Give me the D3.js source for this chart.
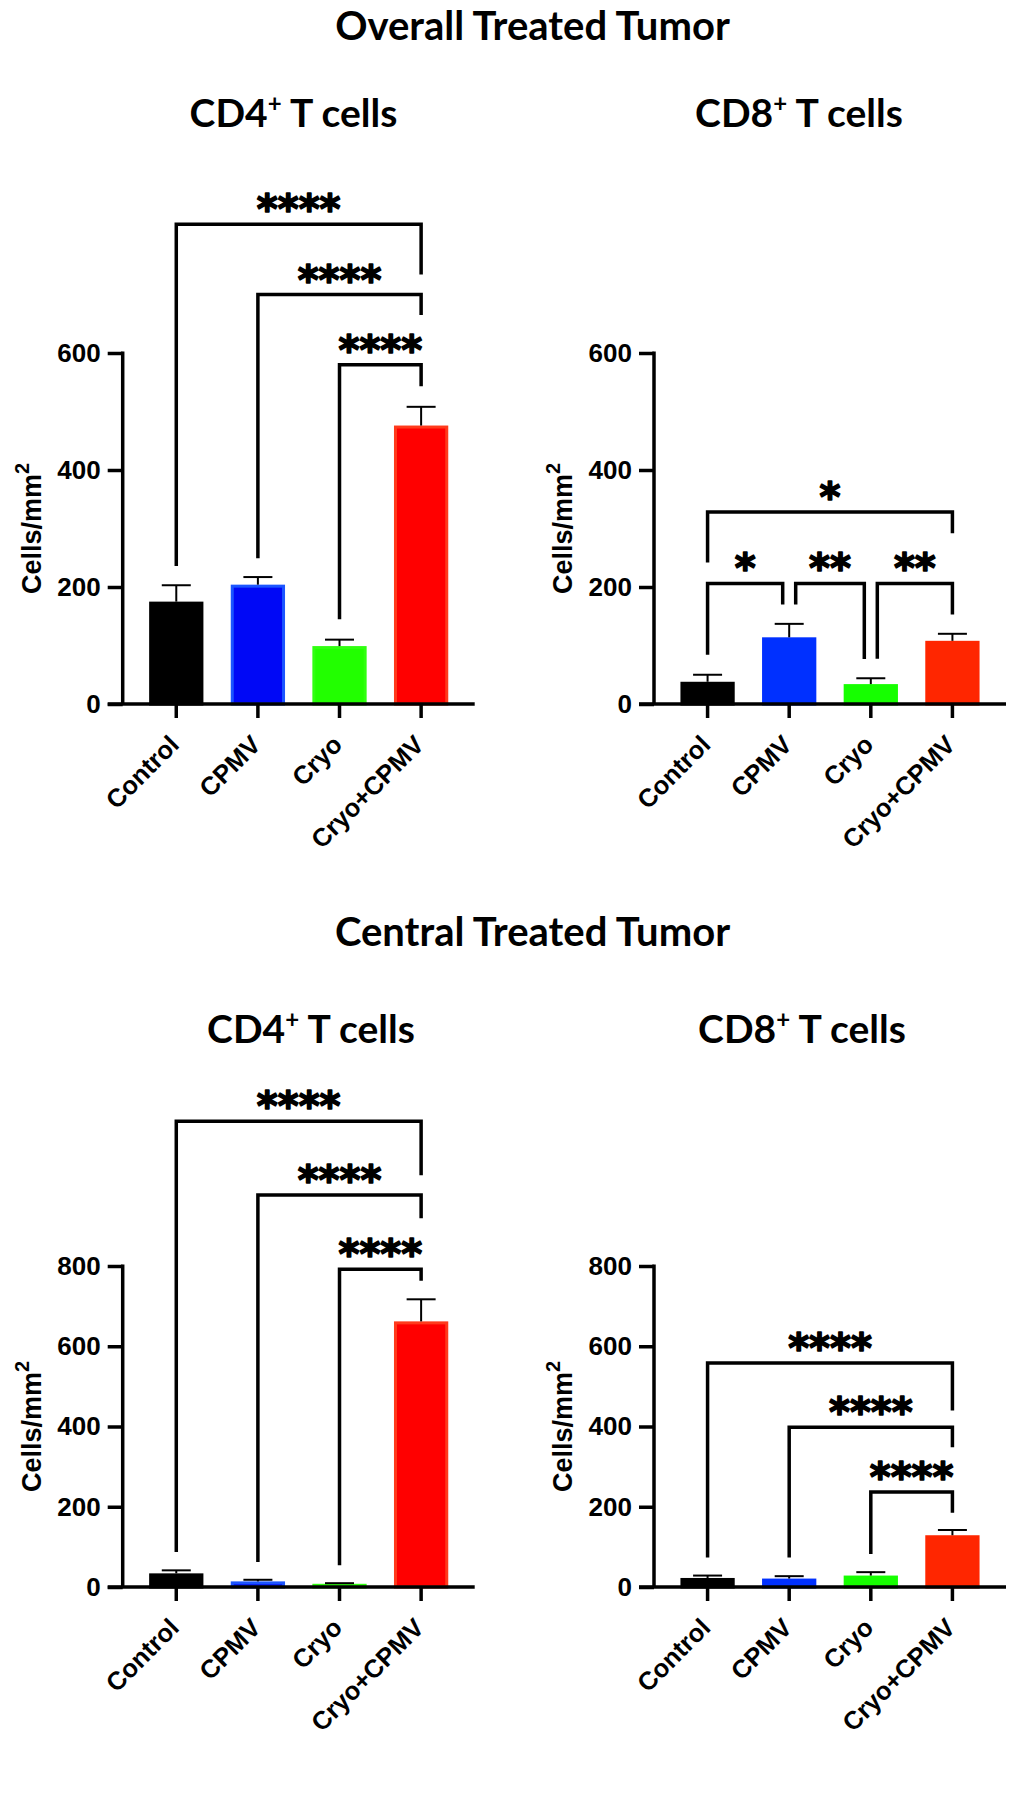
<!DOCTYPE html>
<html><head><meta charset="utf-8">
<script src="https://cdn.jsdelivr.net/npm/d3@7"></script>
<style>body{margin:0;background:#fff}</style>
</head><body>
<svg id="chart" width="1014" height="1800"></svg>
<script>
// ---------------- data ----------------
const categories = ["Control", "CPMV", "Cryo", "Cryo+CPMV"];

const overallCD4Mean = [175, 204, 99, 476];
const overallCD4Sem  = [28, 13, 11, 32];
const overallCD8Mean = [38, 114, 34, 108];
const overallCD8Sem  = [12, 23, 10, 12];
const centralCD4Mean = [34, 14, 8, 662];
const centralCD4Sem  = [7.5, 4, 1.5, 55];
const centralCD8Mean = [22.5, 21, 28.5, 129];
const centralCD8Sem  = [6, 6, 8.5, 13];

const overallTicks = [0, 200, 400, 600];
const centralTicks = [0, 200, 400, 600, 800];

// significance brackets: [from, to, label, bracket level, left leg end, right leg end] (data units)
const overallCD4Sig = [[0, 3, "****", 820, 236, 734], [1, 3, "****", 700, 249, 665], [2, 3, "****", 580, 145, 543]];
const overallCD8Sig = [[0, 3, "*", 328, 242, 292], [0, 1, "*", 206, 84, 170], [1, 2, "**", 206, 170, 77], [2, 3, "**", 206, 77.5, 153]];
const centralCD4Sig = [[0, 3, "****", 1161, 87, 1026], [1, 3, "****", 977, 62, 919], [2, 3, "****", 792, 54, 763]];
const centralCD8Sig = [[0, 3, "****", 558, 73.5, 440], [1, 3, "****", 398, 73.5, 348], [2, 3, "****", 237, 82, 185]];

const sectionTitles = ["Overall Treated Tumor", "Central Treated Tumor"];
const panelTitles = ["CD4", "CD8"];
const yAxisTitle = "Cells/mm";

const colorsLeft   = ["#000000", "#0008f6", "#22ff00", "#ff0000"];
const strokesLeft  = ["#000000", "#1b55ff", "#30ff10", "#ff3a1c"];
const colorsRight  = ["#000000", "#0030ff", "#16ff00", "#ff2600"];

// ---------------- drawing ----------------
const svg = d3.select("#chart");
const sans = "'Liberation Sans', Arial, sans-serif";
const titleFont = "Lato, 'Open Sans', sans-serif";

const panels = [
  {x0: 122.7, y0: 704, yTop: 353, max: 600, ticks: overallTicks, mean: overallCD4Mean, sem: overallCD4Sem, sig: overallCD4Sig, fill: colorsLeft, stroke: strokesLeft, title: panelTitles[0], tx: 293.5, ty: 127},
  {x0: 654,   y0: 704, yTop: 353, max: 600, ticks: overallTicks, mean: overallCD8Mean, sem: overallCD8Sem, sig: overallCD8Sig, fill: colorsRight, stroke: colorsRight, title: panelTitles[1], tx: 799, ty: 127},
  {x0: 122.7, y0: 1587, yTop: 1266, max: 800, ticks: centralTicks, mean: centralCD4Mean, sem: centralCD4Sem, sig: centralCD4Sig, fill: colorsLeft, stroke: strokesLeft, title: panelTitles[0], tx: 311, ty: 1043},
  {x0: 654,   y0: 1587, yTop: 1266, max: 800, ticks: centralTicks, mean: centralCD8Mean, sem: centralCD8Sem, sig: centralCD8Sig, fill: colorsRight, stroke: colorsRight, title: panelTitles[1], tx: 802, ty: 1043}
];

// section titles
[[sectionTitles[0], 40], [sectionTitles[1], 946]].forEach(([t, y]) => {
  svg.append("text").attr("x", 532.5).attr("y", y).attr("text-anchor", "middle")
    .style("font-family", titleFont).style("font-weight", 700).style("font-size", "40px")
    .text(t);
});

const AX_W = 3.5;

panels.forEach(p => {
  const g = svg.append("g");
  const x = d3.scaleBand().domain(categories).range([p.x0, p.x0 + 352])
    .paddingInner(0.335).paddingOuter(0.324);
  const y = d3.scaleLinear().domain([0, p.max]).range([p.y0, p.yTop]);
  const cx = i => x(categories[i]) + x.bandwidth() / 2;

  // panel title with superscript +
  const tt = g.append("text").attr("x", p.tx).attr("y", p.ty).attr("text-anchor", "middle")
    .style("font-family", titleFont).style("font-weight", 700).style("font-size", "39px");
  tt.append("tspan").text(p.title);
  tt.append("tspan").attr("dy", -15).style("font-size", "24px").text("+");
  tt.append("tspan").attr("dy", 15).text(" T cells");

  // bars
  g.selectAll("rect.bar").data(p.mean).join("rect").attr("class", "bar")
    .attr("x", (d, i) => x(categories[i]) + 1.5)
    .attr("width", x.bandwidth() - 3)
    .attr("y", d => y(d) + 1.5)
    .attr("height", d => p.y0 - y(d) - 1.5)
    .attr("fill", (d, i) => p.fill[i])
    .attr("stroke", (d, i) => p.stroke[i])
    .attr("stroke-width", 3);

  // error bars (upper only)
  p.mean.forEach((m, i) => {
    const top = y(m + p.sem[i]);
    g.append("line").attr("x1", cx(i)).attr("x2", cx(i)).attr("y1", y(m)).attr("y2", top)
      .attr("stroke", "#000").attr("stroke-width", 2);
    g.append("line").attr("x1", cx(i) - 14.5).attr("x2", cx(i) + 14.5).attr("y1", top).attr("y2", top)
      .attr("stroke", "#000").attr("stroke-width", 2);
  });

  // axes
  const yAxis = d3.axisLeft(y).tickValues(p.ticks).tickSize(15).tickSizeOuter(0).tickPadding(7);
  const yg = g.append("g").attr("transform", `translate(${p.x0},0)`).call(yAxis);
  const xAxis = d3.axisBottom(x).tickSize(14).tickSizeOuter(0);
  const xg = g.append("g").attr("transform", `translate(0,${p.y0})`).call(xAxis);
  [yg, xg].forEach(a => {
    a.selectAll("path, line").attr("stroke", "#000").attr("stroke-width", AX_W);
    a.selectAll("text").attr("fill", "#000").style("font-family", sans).style("font-weight", 700).style("font-size", "26px");
  });
  xg.select("path.domain").attr("d", `M${p.x0 - 15},0H${p.x0 + 352}`);
  yg.select("path.domain").attr("d", `M0,${p.y0}V${p.yTop - 1.5}`);
  xg.selectAll(".tick text")
    .attr("text-anchor", "end").attr("x", 0).attr("y", 0).attr("dy", "0.35em")
    .attr("transform", "translate(-2,36) rotate(-45)")
    .style("font-size", "25.5px");

  // y axis title
  const yt = g.append("text")
    .attr("transform", `translate(${p.x0 - 82},${(p.y0 + p.yTop) / 2}) rotate(-90)`)
    .attr("text-anchor", "middle")
    .style("font-family", sans).style("font-weight", 700).style("font-size", "27px");
  yt.append("tspan").text(yAxisTitle);
  yt.append("tspan").attr("dy", -12).style("font-size", "20px").text("2");

  // significance brackets
  p.sig.forEach(s => {
    const [a, b, label, lvl, le, re] = s;
    const shared = (idx, side) => p.sig.some(o => o !== s && o[3] === lvl && (side === "L" ? o[1] === idx : o[0] === idx));
    const xl = cx(a) + (shared(a, "L") ? 6.5 : 0);
    const xr = cx(b) - (shared(b, "R") ? 6.5 : 0);
    const yl = y(lvl);
    g.append("path")
      .attr("d", `M${xl},${y(le)}V${yl}H${xr}V${y(re)}`)
      .attr("fill", "none").attr("stroke", "#000").attr("stroke-width", AX_W)
      .attr("stroke-linejoin", "miter");
    g.append("text").attr("x", (xl + xr) / 2).attr("y", yl - 25 + 0.6 * 40)
      .attr("text-anchor", "middle")
      .attr("stroke", "#000").attr("stroke-width", 1.6).attr("stroke-linejoin", "round")
      .style("font-family", "'DejaVu Sans', sans-serif").style("font-weight", 700).style("font-size", "40px")
      .text(label);
  });
});
</script>
</body></html>
